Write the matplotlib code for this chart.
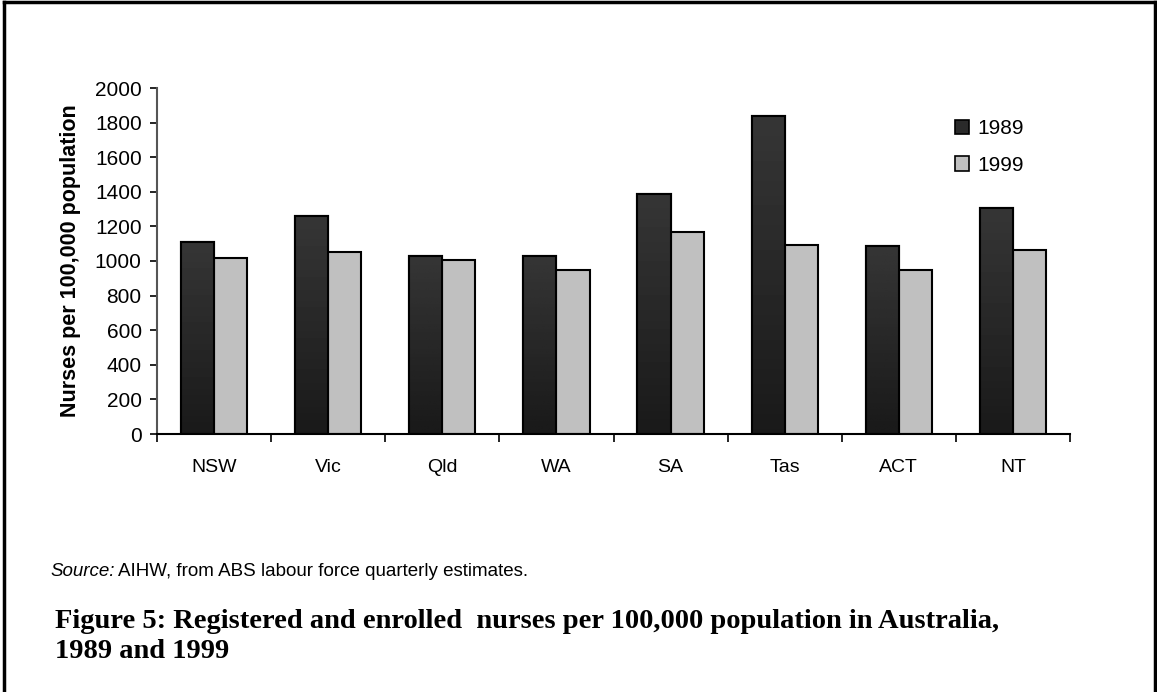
import numpy as np
import matplotlib
matplotlib.use("Agg")
import matplotlib.pyplot as plt
from matplotlib.patches import Rectangle
from matplotlib.lines import Line2D

plt.rcParams['font.family'] = ['Liberation Sans', 'DejaVu Sans']

states = ['NSW', 'Vic', 'Qld', 'WA', 'SA', 'Tas', 'ACT', 'NT']
nurses_1989 = [1110, 1262, 1030, 1030, 1390, 1838, 1085, 1305]
nurses_1999 = [1015, 1051, 1005, 950, 1165, 1095, 950, 1065]

W, H = 1157, 692
fig = plt.figure(figsize=(W / 100, H / 100), dpi=100)
ax = fig.add_axes([157 / W, 1 - 434 / H, 913 / W, 346 / H])

x = np.arange(len(states))
w = 0.29

# dark bars with a soft vertical gradient
grad = np.linspace(0.10, 0.21, 64).reshape(-1, 1)
bars89 = ax.bar(x - w / 2, nurses_1989, w, color='#2a2a2a', edgecolor='black', linewidth=1.5, zorder=2)
for b in bars89:
    im = ax.imshow(grad, cmap='gray', vmin=0, vmax=1, origin='lower', aspect='auto',
                   extent=(b.get_x(), b.get_x() + b.get_width(), 0, b.get_height()), zorder=2.5)
    im.set_clip_path(b)
    ax.add_patch(Rectangle((b.get_x(), 0), b.get_width(), b.get_height(), fill=False,
                           edgecolor='black', linewidth=1.5, zorder=3))
bars99 = ax.bar(x + w / 2, nurses_1999, w, color='#c0c0c0', edgecolor='black', linewidth=1.5, zorder=2)

ax.set_xlim(-0.5, len(states) - 0.5)
ax.set_ylim(0, 2000)
ax.set_yticks(range(0, 2001, 200))
ax.set_xticks(x)
ax.set_xticklabels(states, fontsize=14)
ax.set_xticks(np.arange(-0.5, len(states)), minor=True)
ax.tick_params(axis='x', which='major', length=0, pad=18)
ax.tick_params(axis='x', which='minor', length=6, width=1.2, direction='out')
ax.tick_params(axis='y', labelsize=15, length=5, width=1.2, pad=6)
ax.set_ylabel('Nurses per 100,000 population', fontsize=15.5, fontweight='bold', labelpad=10)

for s in ['top', 'right']:
    ax.spines[s].set_visible(False)
ax.spines['left'].set_color('#555555')
ax.spines['left'].set_linewidth(1.5)
ax.spines['bottom'].set_linewidth(1.5)

handles = [Rectangle((0, 0), 1, 1, facecolor='#2a2a2a', edgecolor='black', linewidth=1.2),
           Rectangle((0, 0), 1, 1, facecolor='#c0c0c0', edgecolor='black', linewidth=1.2)]
ax.legend(handles, ['1989', '1999'], loc='upper left', bbox_to_anchor=(0.874, 0.91),
          frameon=False, fontsize=15, handlelength=0.68, handleheight=0.68,
          handletextpad=0.4, labelspacing=0.85, borderpad=0, borderaxespad=0)

# source and caption
fig.text(50 / W, 1 - 576 / H, 'Source:', fontsize=13.5, style='italic', va='baseline')
fig.text(118 / W, 1 - 576 / H, 'AIHW, from ABS labour force quarterly estimates.', fontsize=13.5,
         va='baseline')
fig.text(55 / W, 1 - 628 / H, 'Figure 5: Registered and enrolled  nurses per 100,000 population in Australia,',
         fontsize=20.5, fontweight='bold', family='Liberation Serif', va='baseline')
fig.text(55 / W, 1 - 658 / H, '1989 and 1999',
         fontsize=20.5, fontweight='bold', family='Liberation Serif', va='baseline')

# page frame (left, top, right)
fig.add_artist(Line2D([4 / W, 4 / W], [0, 1 - 2 / H], color='black', linewidth=2.5))
fig.add_artist(Line2D([4 / W, 1155 / W], [1 - 2 / H, 1 - 2 / H], color='black', linewidth=2.5))
fig.add_artist(Line2D([1155 / W, 1155 / W], [0, 1 - 2 / H], color='black', linewidth=2.5))

fig.savefig('out.png', dpi=100)
